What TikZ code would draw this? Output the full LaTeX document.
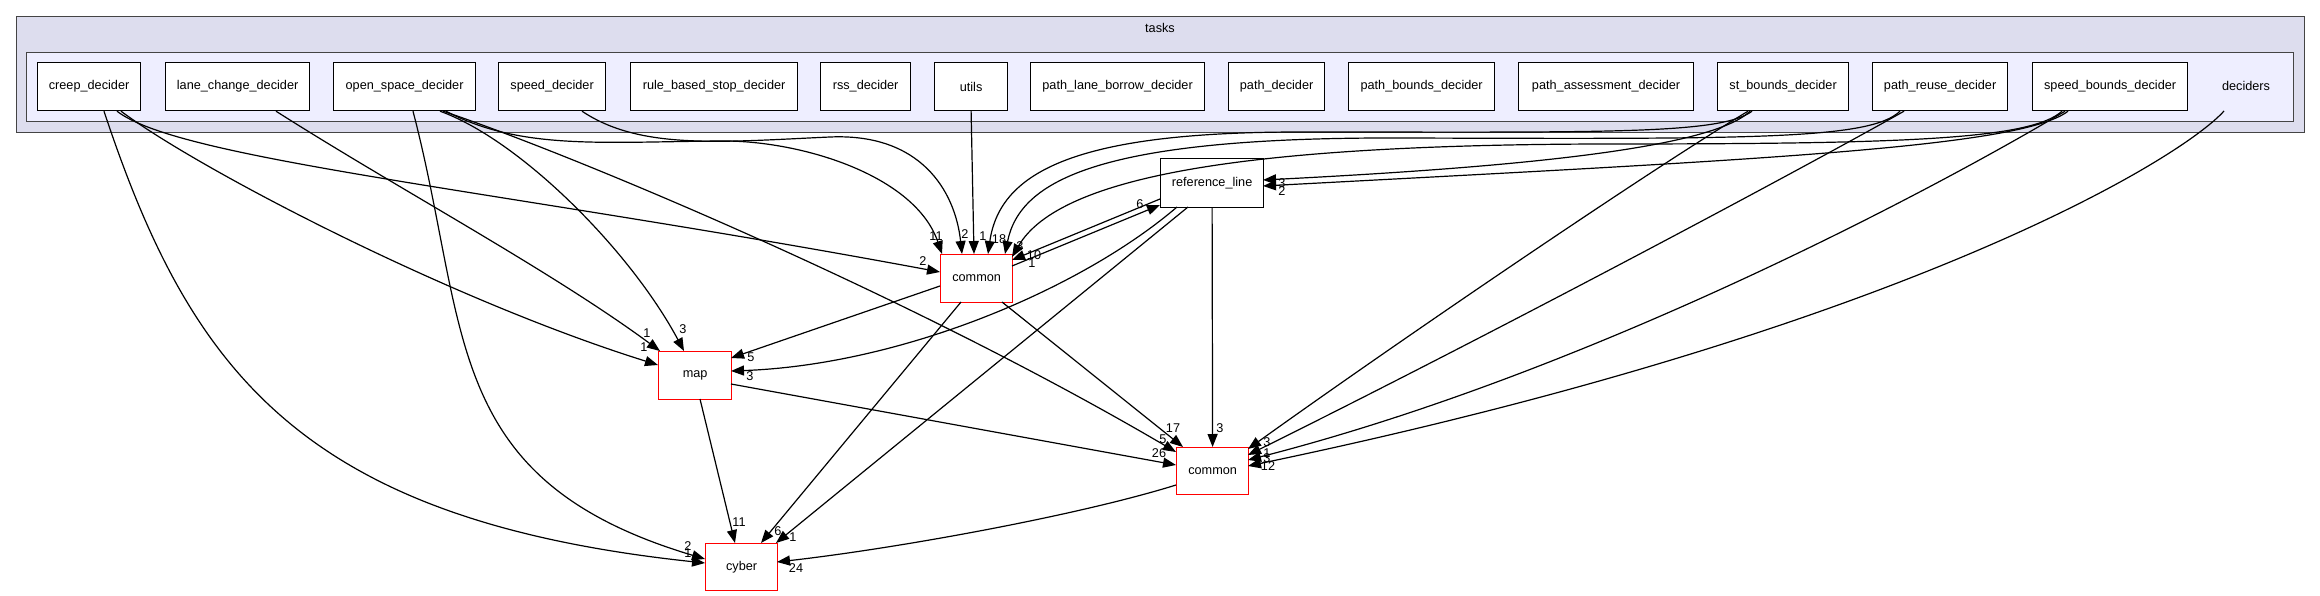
\documentclass[tikz,border=0pt]{standalone}
\usepackage{fontspec}
\setmainfont{Liberation Sans}
\usetikzlibrary{arrows.meta,calc}
\definecolor{clouter}{HTML}{DDDDEE}
\definecolor{clinner}{HTML}{EEEEFF}
\definecolor{clborder}{HTML}{444444}
\newcommand{\nfont}{\fontsize{12.7}{14}\selectfont}
\tikzset{
  box/.style={draw=black, line width=1.2pt, fill=white, minimum height=48pt, inner sep=0pt, anchor=north west, font=\nfont},
  redbox/.style={box, draw=red},
  cluster/.style={draw=clborder, inner sep=0pt, anchor=north west},
  plain/.style={inner sep=0pt, font=\nfont},
  lbl/.style={inner sep=0pt, font=\nfont},
  edge/.style={draw=black, line width=1.2pt, -{Triangle[length=13pt,width=10pt]}},
}
\begin{document}
\begin{tikzpicture}[x=1pt,y=-1pt]
\useasboundingbox (0,0) rectangle (2320,596);
% clusters
\node[cluster, fill=clouter, line width=1.6pt, minimum width=2288pt, minimum height=116pt] (tasks) at (15.7,15.7) {};
\node[plain] (taskslbl) at (1160,28) {tasks};
\node[cluster, fill=clinner, line width=1.2pt, minimum width=2267pt, minimum height=69pt] (decclu) at (26,52) {};
\node[plain] (deciders) at (2246,86) {deciders};
% top boxes
\node[box, minimum width=103pt] (creep) at (37,62) {creep\_decider};
\node[box, minimum width=144pt] (lane) at (165,62) {lane\_change\_decider};
\node[box, minimum width=142pt] (open) at (333,62) {open\_space\_decider};
\node[box, minimum width=107pt] (speed) at (498,62) {speed\_decider};
\node[box, minimum width=167pt] (rule) at (630,62) {rule\_based\_stop\_decider};
\node[box, minimum width=90pt] (rss) at (820,62) {rss\_decider};
\node[box, minimum width=73pt] (utils) at (934,62) {utils};
\node[box, minimum width=174pt] (plb) at (1030,62) {path\_lane\_borrow\_decider};
\node[box, minimum width=96pt] (pd) at (1228,62) {path\_decider};
\node[box, minimum width=146pt] (pbd) at (1348,62) {path\_bounds\_decider};
\node[box, minimum width=175pt] (pad) at (1518,62) {path\_assessment\_decider};
\node[box, minimum width=131pt] (st) at (1717,62) {st\_bounds\_decider};
\node[box, minimum width=135pt] (pr) at (1872,62) {path\_reuse\_decider};
\node[box, minimum width=155pt] (sbd) at (2032,62) {speed\_bounds\_decider};
% lower boxes
\node[redbox, minimum width=72pt] (common1) at (940,254) {common};
\node[box, minimum width=103pt, minimum height=49pt] (ref) at (1160,158) {reference\_line};
\node[redbox, minimum width=73pt] (map) at (658,351) {map};
\node[redbox, minimum width=72pt, minimum height=47pt] (common2) at (1176,447) {common};
\node[redbox, minimum width=72pt, minimum height=47pt] (cyber) at (705,543) {cyber};
% edges from the left group
\draw[edge] ($(creep.south west)+(67,0)$) .. controls (190,370) and (300,520) .. ($(cyber.north west)+(0,20)$);
\draw[edge] ($(open.south west)+(80,0)$) .. controls (470,330) and (440,480) .. ($(cyber.north west)+(0,16)$);
\draw[edge] ($(creep.south west)+(84,0)$) .. controls (200,170) and (450,300) .. ($(map.north west)+(0,14)$);
\draw[edge] ($(creep.south west)+(80,0)$) .. controls (180,160) and (500,190) .. ($(common1.north west)+(0,18)$);
\draw[edge] ($(lane.south west)+(111,0)$) .. controls (400,190) and (550,270) .. ($(map.north west)+(2,0)$);
\draw[edge] ($(open.south west)+(107,0)$) .. controls (520,140) and (630,250) .. ($(map.north west)+(26,0)$);
\draw[edge] ($(open.south west)+(110,0)$) .. controls (560,150) and (900,290) .. ($(common2.north west)+(0,5)$);
\draw[edge] ($(open.south west)+(113,0)$) .. controls (520,150) and (600,142) .. (720,141) .. controls (800,140) and (915,175) .. ($(common1.north west)+(2,0)$);
\draw[edge] ($(speed.south west)+(84,0)$) .. controls (640,150) and (720,142) .. (830,137) .. controls (920,133) and (955,190) .. ($(common1.north west)+(22,0)$);
\draw[edge] (utils.south) -- ($(common1.north west)+(34,0)$);
% edges from the right group
\draw[edge] ($(st.south west)+(35,0)$) .. controls (1720,135) and (1600,132) .. (1300,132) .. controls (1080,132) and (1000,170) .. ($(common1.north west)+(48,0)$);
\draw[edge] ($(pr.south west)+(28,0)$) .. controls (1870,140) and (1750,139) .. (1400,138) .. controls (1100,137) and (1020,180) .. ($(common1.north west)+(65,0)$);
\draw[edge] ($(sbd.south west)+(30,0)$) .. controls (2030,140) and (1900,144) .. (1600,144) .. controls (1250,145) and (1060,175) .. ($(common1.north west)+(72,3)$);
\draw[edge] ($(st.south west)+(33,0)$) .. controls (1710,150) and (1500,168) .. ($(ref.north west)+(103,22)$);
\draw[edge] ($(sbd.south west)+(36,0)$) .. controls (2020,148) and (1750,160) .. ($(ref.north west)+(103,28)$);
\draw[edge] ($(st.south west)+(31,0)$) .. controls (1650,170) and (1400,340) .. ($(common2.north west)+(72,2)$);
\draw[edge] ($(pr.south west)+(32,0)$) .. controls (1800,170) and (1500,330) .. ($(common2.north west)+(72,8)$);
\draw[edge] ($(sbd.south west)+(33,0)$) .. controls (1950,180) and (1600,370) .. ($(common2.north west)+(72,13)$);
\draw[edge] ($(deciders.center)+(-22,25)$) .. controls (2180,160) and (1900,330) .. ($(common2.north west)+(72,19)$);
% edges among lower nodes
\draw[edge] ($(ref.north west)+(0,41)$) -- ($(common1.north west)+(72,6)$);
\draw[edge] ($(common1.north west)+(72,12)$) -- ($(ref.north west)+(0,47)$);
\draw[edge] ($(ref.north west)+(17,49)$) .. controls (1080,290) and (900,365) .. ($(map.north west)+(73,20)$);
\draw[edge] ($(ref.north west)+(28,49)$) -- ($(cyber.north west)+(71,0)$);
\draw[edge] (ref.south) -- (common2.north);
\draw[edge] ($(common1.north west)+(0,32)$) -- ($(map.north west)+(73,7)$);
\draw[edge] ($(common1.north west)+(21,48)$) -- ($(cyber.north west)+(56,0)$);
\draw[edge] ($(common1.north west)+(62,48)$) -- ($(common2.north west)+(7,0)$);
\draw[edge] ($(map.north west)+(42,48)$) -- ($(cyber.north west)+(30,0)$);
\draw[edge] ($(map.north west)+(73,33)$) -- ($(common2.north west)+(0,18)$);
\draw[edge] ($(common2.north west)+(0,38)$) .. controls (1080,515) and (900,548) .. ($(cyber.north west)+(72,19)$);
% edge labels
\node[lbl] (c1) at (688,546) {2};
\node[lbl] (c2) at (688,553) {1};
\node[lbl] (c3) at (739,522) {11};
\node[lbl] (c4) at (778,531) {6};
\node[lbl] (c5) at (793,537) {1};
\node[lbl] (c6) at (796,568) {24};
\node[lbl] (m1) at (647,333) {1};
\node[lbl] (m2) at (644,347) {1};
\node[lbl] (m3) at (683,329) {3};
\node[lbl] (m4) at (751,357) {5};
\node[lbl] (m5) at (750,376) {3};
\node[lbl] (a1) at (923,261) {2};
\node[lbl] (a2) at (936,236) {11};
\node[lbl] (a3) at (965,234) {2};
\node[lbl] (a4) at (983,236) {1};
\node[lbl] (a5) at (999,239) {18};
\node[lbl] (a6) at (1020,246) {3};
\node[lbl] (a7) at (1034,255) {10};
\node[lbl] (a8) at (1032,263) {1};
\node[lbl] (r1) at (1140,204) {6};
\node[lbl] (r2) at (1282,183) {3};
\node[lbl] (r3) at (1282,191) {2};
\node[lbl] (b1) at (1173,428) {17};
\node[lbl] (b2) at (1220,428) {3};
\node[lbl] (b3) at (1163,439) {5};
\node[lbl] (b4) at (1159,453) {26};
\node[lbl] (b5) at (1267,442) {3};
\node[lbl] (b6) at (1267,453) {1};
\node[lbl] (b7) at (1267,458) {3};
\node[lbl] (b8) at (1268,466) {12};
\end{tikzpicture}
\end{document}
